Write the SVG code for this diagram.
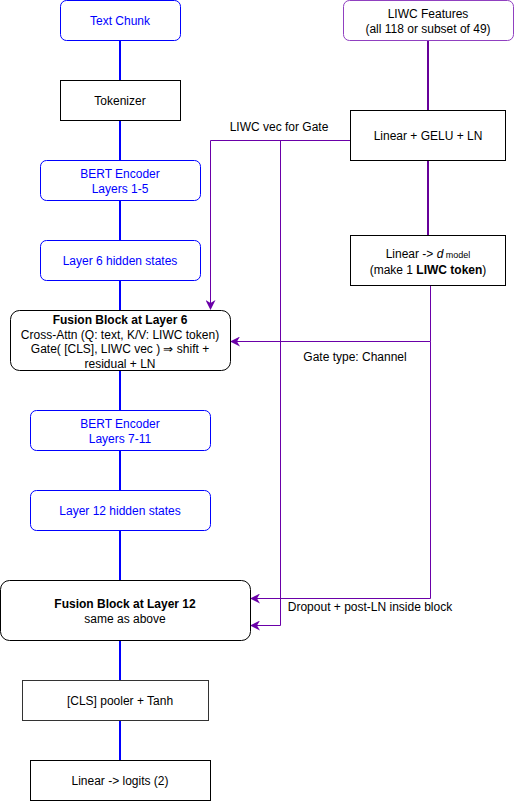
<svg xmlns="http://www.w3.org/2000/svg" width="514" height="801" viewBox="0 0 514 801">
<style>
text{font-family:"Liberation Sans",Arial,Helvetica,sans-serif;font-size:12px;text-anchor:middle;fill:#000}
.blue rect{fill:#fff;stroke:#0000FF;stroke-width:1}
.blue text{fill:#0000FF}
.plain rect{fill:#fff;stroke:#000;stroke-width:1}
.spine{stroke:#0000FF;stroke-width:2;fill:none}
.pthick{stroke:#660099;stroke-width:2;fill:none}
.pthin{stroke:#6A00A8;stroke-width:1;fill:none}
.b{font-weight:bold}
</style>
<defs>
<marker id="ah" viewBox="0 0 10 10" refX="9" refY="5" markerWidth="10" markerHeight="10" markerUnits="userSpaceOnUse" orient="auto">
<path d="M0,0 L10,5 L0,10 L3,5 Z" fill="#6A00A8"/>
</marker>
</defs>
<rect x="0" y="0" width="514" height="801" fill="#fff"/>
<g id="connectors">
<path class="spine" d="M120,40V80M120,120V160M120,200V240M120,280V310M120,370V410M120,450V490M120,530V580M120,640V680M120,720V760"/>
<path class="pthick" d="M428,40V110M428,160V235"/>
<path class="pthin" d="M350,140.5H210.5V309" marker-end="url(#ah)"/>
<path class="pthin" d="M280.5,140.5V625.5H251" marker-end="url(#ah)"/>
<path class="pthin" d="M430.5,285V341.5H231" marker-end="url(#ah)"/>
<path class="pthin" d="M430.5,341.5V598.5H251" marker-end="url(#ah)"/>
<text x="279" y="131">LIWC vec for Gate</text>
<text x="355" y="361">Gate type: Channel</text>
<text x="370" y="611">Dropout + post-LN inside block</text>
</g>
<g id="text-chunk" class="blue"><rect x="60.5" y="0.5" width="120" height="40" rx="6"/><text x="120" y="25">Text Chunk</text></g>
<g id="tokenizer" class="plain"><rect x="60.5" y="80.5" width="120" height="40"/><text x="120" y="105">Tokenizer</text></g>
<g id="bert-1-5" class="blue"><rect x="40.5" y="160.5" width="160" height="40" rx="6"/><text x="120" y="178">BERT Encoder</text><text x="120" y="193">Layers 1-5</text></g>
<g id="layer6" class="blue"><rect x="40.5" y="240.5" width="160" height="40" rx="6"/><text x="120" y="265">Layer 6 hidden states</text></g>
<g id="fusion6" class="plain"><rect x="10.5" y="310.5" width="220" height="60" rx="9"/><text x="120" y="324" class="b">Fusion Block at Layer 6</text><text x="120" y="338.5">Cross-Attn (Q: text, K/V: LIWC token)</text><text x="120" y="353">Gate( [CLS], LIWC vec ) ⇒ shift +</text><text x="120" y="367.5">residual + LN</text></g>
<g id="bert-7-11" class="blue"><rect x="30.5" y="410.5" width="180" height="40" rx="6"/><text x="120" y="428">BERT Encoder</text><text x="120" y="443">Layers 7-11</text></g>
<g id="layer12" class="blue"><rect x="30.5" y="490.5" width="180" height="40" rx="6"/><text x="120" y="515">Layer 12 hidden states</text></g>
<g id="fusion12" class="plain"><rect x="0.5" y="580.5" width="250" height="60" rx="9"/><text x="125" y="608" class="b">Fusion Block at Layer 12</text><text x="125" y="623">same as above</text></g>
<g id="pooler" class="plain"><rect x="22.5" y="680.5" width="186" height="40" style="stroke:#333"/><text x="120" y="705">[CLS] pooler + Tanh</text></g>
<g id="logits" class="plain"><rect x="30.5" y="760.5" width="180" height="40"/><text x="120" y="785">Linear -&gt; logits (2)</text></g>
<g id="liwc-features"><rect x="343.5" y="0.5" width="170" height="40" rx="6" fill="#fff" stroke="#9040C0"/><text x="428" y="18" fill="#7A1FAA">LIWC Features</text><text x="428" y="33" fill="#7A1FAA">(all 118 or subset of 49)</text></g>
<g id="linear-gelu" class="plain"><rect x="350.5" y="110.5" width="155" height="50"/><text x="428" y="140">Linear + GELU + LN</text></g>
<g id="linear-dmodel" class="plain"><rect x="350.5" y="235.5" width="155" height="50"/><text x="428" y="257.5">Linear -&gt; <tspan font-style="italic">d</tspan><tspan font-size="9"> model</tspan></text><text x="428" y="273.5">(make 1 <tspan class="b">LIWC token</tspan>)</text></g>
</svg>
